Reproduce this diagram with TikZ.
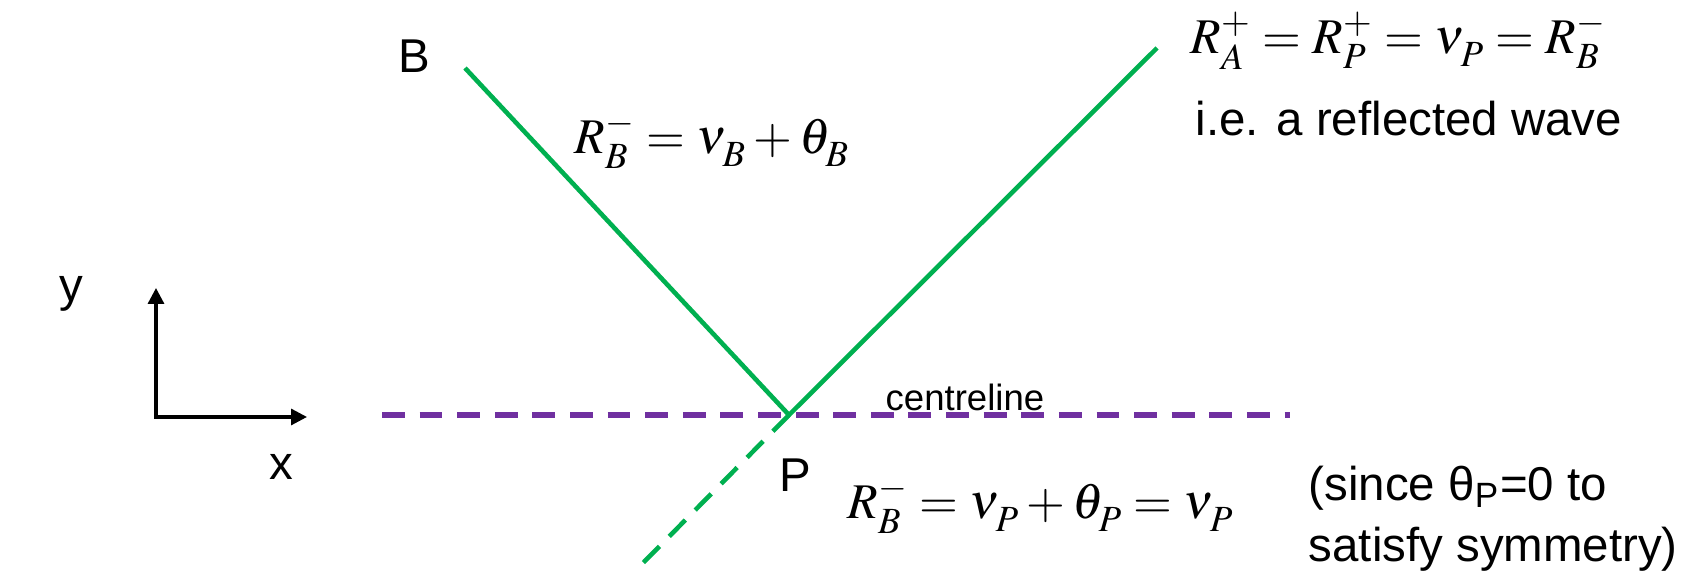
\documentclass[tikz,border=0pt]{standalone}
\usepackage{mathptmx}
\usepackage[no-math]{fontspec}
\usepackage{xcolor}
\usepackage{tikz}
\usetikzlibrary{arrows.meta}
\newfontfamily\rwsans{Liberation Sans}
\definecolor{RWGreen}{HTML}{00B050}
\definecolor{RWPurple}{HTML}{7030A0}
\newcommand\rwlow{\fontdimen16\textfont2=3.6pt\fontdimen17\textfont2=3.6pt}
\tikzset{
  rwtext/.style={font=\rwsans\fontsize{13.5}{17.6}\selectfont,inner sep=0pt,anchor=base west},
  rweq/.style={font=\fontsize{14.2}{17}\selectfont,inner sep=0pt,anchor=base west},
  rwwave/.style={RWGreen,line width=1.3pt},
  rwaxis/.style={black,line width=0.9pt,{Triangle[length=4.5pt,width=4.5pt]}-{Triangle[length=4.5pt,width=4.5pt]}}
}

\begin{document}
\begin{tikzpicture}[x=1cm,y=1cm]
\path[use as bounding box] (0,0) rectangle (16.88,5.72);
\coordinate (P) at (7.89,1.57);
\coordinate (B) at (4.65,5.04);
\coordinate (A) at (11.57,5.24);
\coordinate (Q) at (6.43,0.09);
\coordinate (CL0) at (3.82,1.57);
\coordinate (CL1) at (12.90,1.57);
\coordinate (O) at (1.56,1.55);
\coordinate (Ox) at (3.07,1.55);
\coordinate (Oy) at (1.56,2.84);
\draw[RWPurple,line width=1.6pt,dash pattern=on 6.5pt off 4.2pt] (CL0) -- (CL1);
\draw[rwwave] (B) -- (P) -- (A);
\draw[rwwave,dash pattern=on 6.5pt off 4pt] (P) -- (Q);
\draw[rwaxis] (Oy) -- (O) -- (Ox);
\node (labB)[rwtext] at (3.98,4.99) {B};
\node (labP)[rwtext] at (7.79,0.80) {P};
\node (labx)[rwtext] at (2.69,0.92) {x};
\node (laby)[rwtext] at (0.59,2.70) {y};
\node (labCL)[rwtext,font=\rwsans\fontsize{10.4}{12}\selectfont] at (8.85,1.61) {centreline};
\node (eqB)[rweq] at (5.74,4.18) {$\rwlow R_B^- = \nu_B + \theta_B$};
\node (eqA)[rweq] at (11.90,5.18) {$\rwlow R_A^+ = R_P^+ = \nu_P = R_B^-$};
\node (labRefl)[rwtext] at (11.95,4.36) {i.e. a reflected wave};
\node (eqP)[rweq] at (8.47,0.53) {$\rwlow R_B^- = \nu_P + \theta_P = \nu_P$};
\node (labSym)[rwtext,align=left] at (13.08,0.10) {(since θ\textsubscript{P}=0 to\\satisfy symmetry)};
\end{tikzpicture}
\end{document}
